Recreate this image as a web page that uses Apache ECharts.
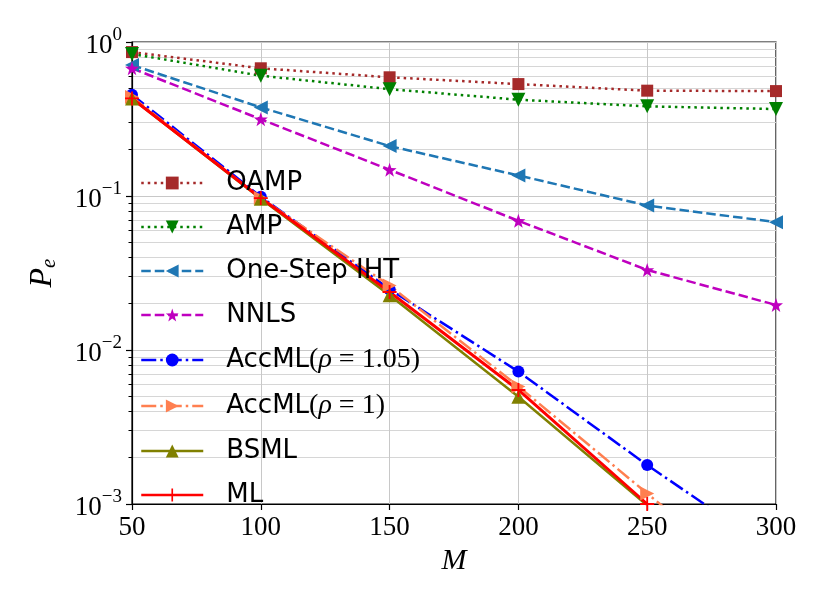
<!DOCTYPE html>
<html>
<head>
<meta charset="utf-8">
<script src="https://cdn.jsdelivr.net/npm/echarts@6/dist/echarts.min.js"></script>
<style>
  html, body { margin: 0; padding: 0; background: #fff; }
  #main { width: 830px; height: 609px; }
</style>
</head>
<body>
<div id="main"></div>
<script>
// M values on the x axis
var Ms = [50, 100, 150, 200, 250, 300];

// error probability P_e per method (null = below plot)
var oamp     = [0.86, 0.675, 0.59, 0.533, 0.483, 0.48];
var amp      = [0.836, 0.604, 0.494, 0.422, 0.382, 0.367];
var iht      = [0.708, 0.376, 0.211, 0.136, 0.0867, 0.0676];
var nnls     = [0.675, 0.315, 0.148, 0.069, 0.0331, 0.0196];
var accml105 = [0.455, 0.099, 0.0248, 0.00724, 0.00179, 0.00048];
var accml1   = [0.44, 0.097, 0.0262, 0.0058, 0.00117, 0.00024];
var bsml     = [0.43, 0.096, 0.0227, 0.00497, 0.00098, null];
var ml       = [0.43, 0.097, 0.0238, 0.0055, 0.001, null];

// minor log ticks
var minorTicks = [0.002, 0.003, 0.004, 0.005, 0.006, 0.007, 0.008, 0.009,
                  0.02, 0.03, 0.04, 0.05, 0.06, 0.07, 0.08, 0.09,
                  0.2, 0.3, 0.4, 0.5, 0.6, 0.7, 0.8, 0.9];

var starPath = 'path://M0,-10 L2.35,-3.24 L9.51,-3.09 L3.8,1.24 L5.88,8.09 L0,4 L-5.88,8.09 L-3.8,1.24 L-9.51,-3.09 L-2.35,-3.24 Z';
var plusPath = 'path://M-1.3,-10 H1.3 V-1.3 H10 V1.3 H1.3 V10 H-1.3 V1.3 H-10 V-1.3 H-1.3 Z';

function pairs(vals) {
    var out = [];
    for (var i = 0; i < Ms.length; i++) {
        if (vals[i] != null) out.push([Ms[i], vals[i]]);
    }
    return out;
}

var dotted = [2.5, 4];
var dashed = [9.5, 4];
var dashdot = [15, 4, 2.5, 4];

function mk(name, vals, color, dash, symbol, size, rot, width) {
    return {
        name: name,
        type: 'line',
        data: pairs(vals),
        color: color,
        symbol: symbol,
        symbolSize: size,
        symbolRotate: rot,
        showSymbol: true,
        lineStyle: { color: color, width: width || 2.5, type: dash },
        itemStyle: { color: color },
        animation: false
    };
}

var series = [
    mk('OAMP', oamp, '#a52a2a', dotted, 'rect', 12, 0),
    mk('AMP', amp, '#008000', dotted, 'triangle', 14, 180),
    mk('One-Step IHT', iht, '#1f77b4', dashed, 'triangle', 14, 90),
    mk('NNLS', nnls, '#bf00bf', dashed, starPath, 14, 0),
    mk('AccML(ρ = 1.05)', accml105, '#0000ff', dashdot, 'circle', 12, 0),
    mk('AccML(ρ = 1)', accml1, '#ff7f50', dashdot, 'triangle', 14, -90),
    mk('BSML', bsml, '#808000', 'solid', 'triangle', 14, 0),
    mk('ML', ml, '#ff0000', 'solid', plusPath, 14, 0, 3)
];

var serifFont = '"Liberation Serif", "DejaVu Serif", serif';
var sansFont = '"DejaVu Sans", sans-serif';

var chart = echarts.init(document.getElementById('main'));
chart.setOption({
    backgroundColor: '#fff',
    animation: false,
    grid: {
        left: 132, right: 54, top: 42, bottom: 105,
        show: true, borderColor: '#000', borderWidth: 1.2, backgroundColor: 'transparent'
    },
    legend: {
        orient: 'vertical',
        left: 140, top: 170,
        padding: 0,
        itemWidth: 62, itemHeight: 16,
        itemGap: 18,
        lineStyle: { width: 2.5 },
        data: series.map(function (s) { return s.name; }),
        formatter: function (name) {
            var m = name.match(/^AccML\(ρ = (.*)\)$/);
            if (m) return '{s|AccML}{m|(}{i|ρ}{m| = ' + m[1] + ')}';
            return '{s|' + name + '}';
        },
        textStyle: {
            padding: [0, 0, 0, 18],
            rich: {
                s: { fontFamily: sansFont, fontSize: 26, lineHeight: 30, color: '#000' },
                m: { fontFamily: serifFont, fontSize: 28, lineHeight: 30, color: '#000' },
                i: { fontFamily: serifFont, fontStyle: 'italic', fontSize: 28, lineHeight: 30, color: '#000' }
            }
        }
    },
    xAxis: {
        type: 'value',
        min: 50, max: 300, interval: 50,
        name: 'M',
        nameLocation: 'middle',
        nameGap: 40,
        nameTextStyle: { fontFamily: serifFont, fontStyle: 'italic', fontSize: 30, color: '#000' },
        axisLine: { show: true, lineStyle: { color: '#000', width: 1.2 } },
        axisTick: { show: true, inside: false, length: 6, lineStyle: { color: '#000', width: 1.2 } },
        axisLabel: { fontFamily: serifFont, fontSize: 27, color: '#000', margin: 10 },
        splitLine: { show: true, lineStyle: { color: '#c8c8c8', width: 1 } }
    },
    yAxis: [{
        type: 'log',
        logBase: 10,
        min: 0.001, max: 1,
        name: '{p|P}{e|e}',
        nameLocation: 'middle',
        nameGap: 72,
        nameRotate: 90,
        nameTextStyle: {
            rich: {
                p: { fontFamily: serifFont, fontStyle: 'italic', fontSize: 32, color: '#000', lineHeight: 34 },
                e: { fontFamily: serifFont, fontStyle: 'italic', fontSize: 21, color: '#000', verticalAlign: 'bottom', lineHeight: 34, padding: [14, 0, 0, 0] }
            }
        },
        axisLine: { show: true, lineStyle: { color: '#000', width: 1.2 } },
        axisTick: { show: true, inside: false, length: 6, lineStyle: { color: '#000', width: 1.2 } },
        axisLabel: {
            margin: 10,
            formatter: function (v) {
                var e = Math.round(Math.log10(v));
                return '{b|10}{s|' + (e < 0 ? '\u2212' + (-e) : e) + '}';
            },
            rich: {
                b: { fontFamily: serifFont, fontSize: 27, color: '#000', lineHeight: 32, padding: [8, 0, 0, 0] },
                s: { fontFamily: serifFont, fontSize: 19, color: '#000', verticalAlign: 'top', lineHeight: 19 }
            }
        },
        splitLine: { show: true, lineStyle: { color: '#c8c8c8', width: 1 } }
    }, {
        type: 'log',
        logBase: 10,
        min: 0.001, max: 1,
        position: 'left',
        axisLine: { show: false },
        axisLabel: { show: false },
        axisTick: { show: true, inside: false, length: 3.5, customValues: minorTicks, lineStyle: { color: '#000', width: 1 } },
        splitLine: { show: true, lineStyle: { color: '#d6d6d6', width: 1 } }
    }],
    series: series
});
</script>
</body>
</html>
